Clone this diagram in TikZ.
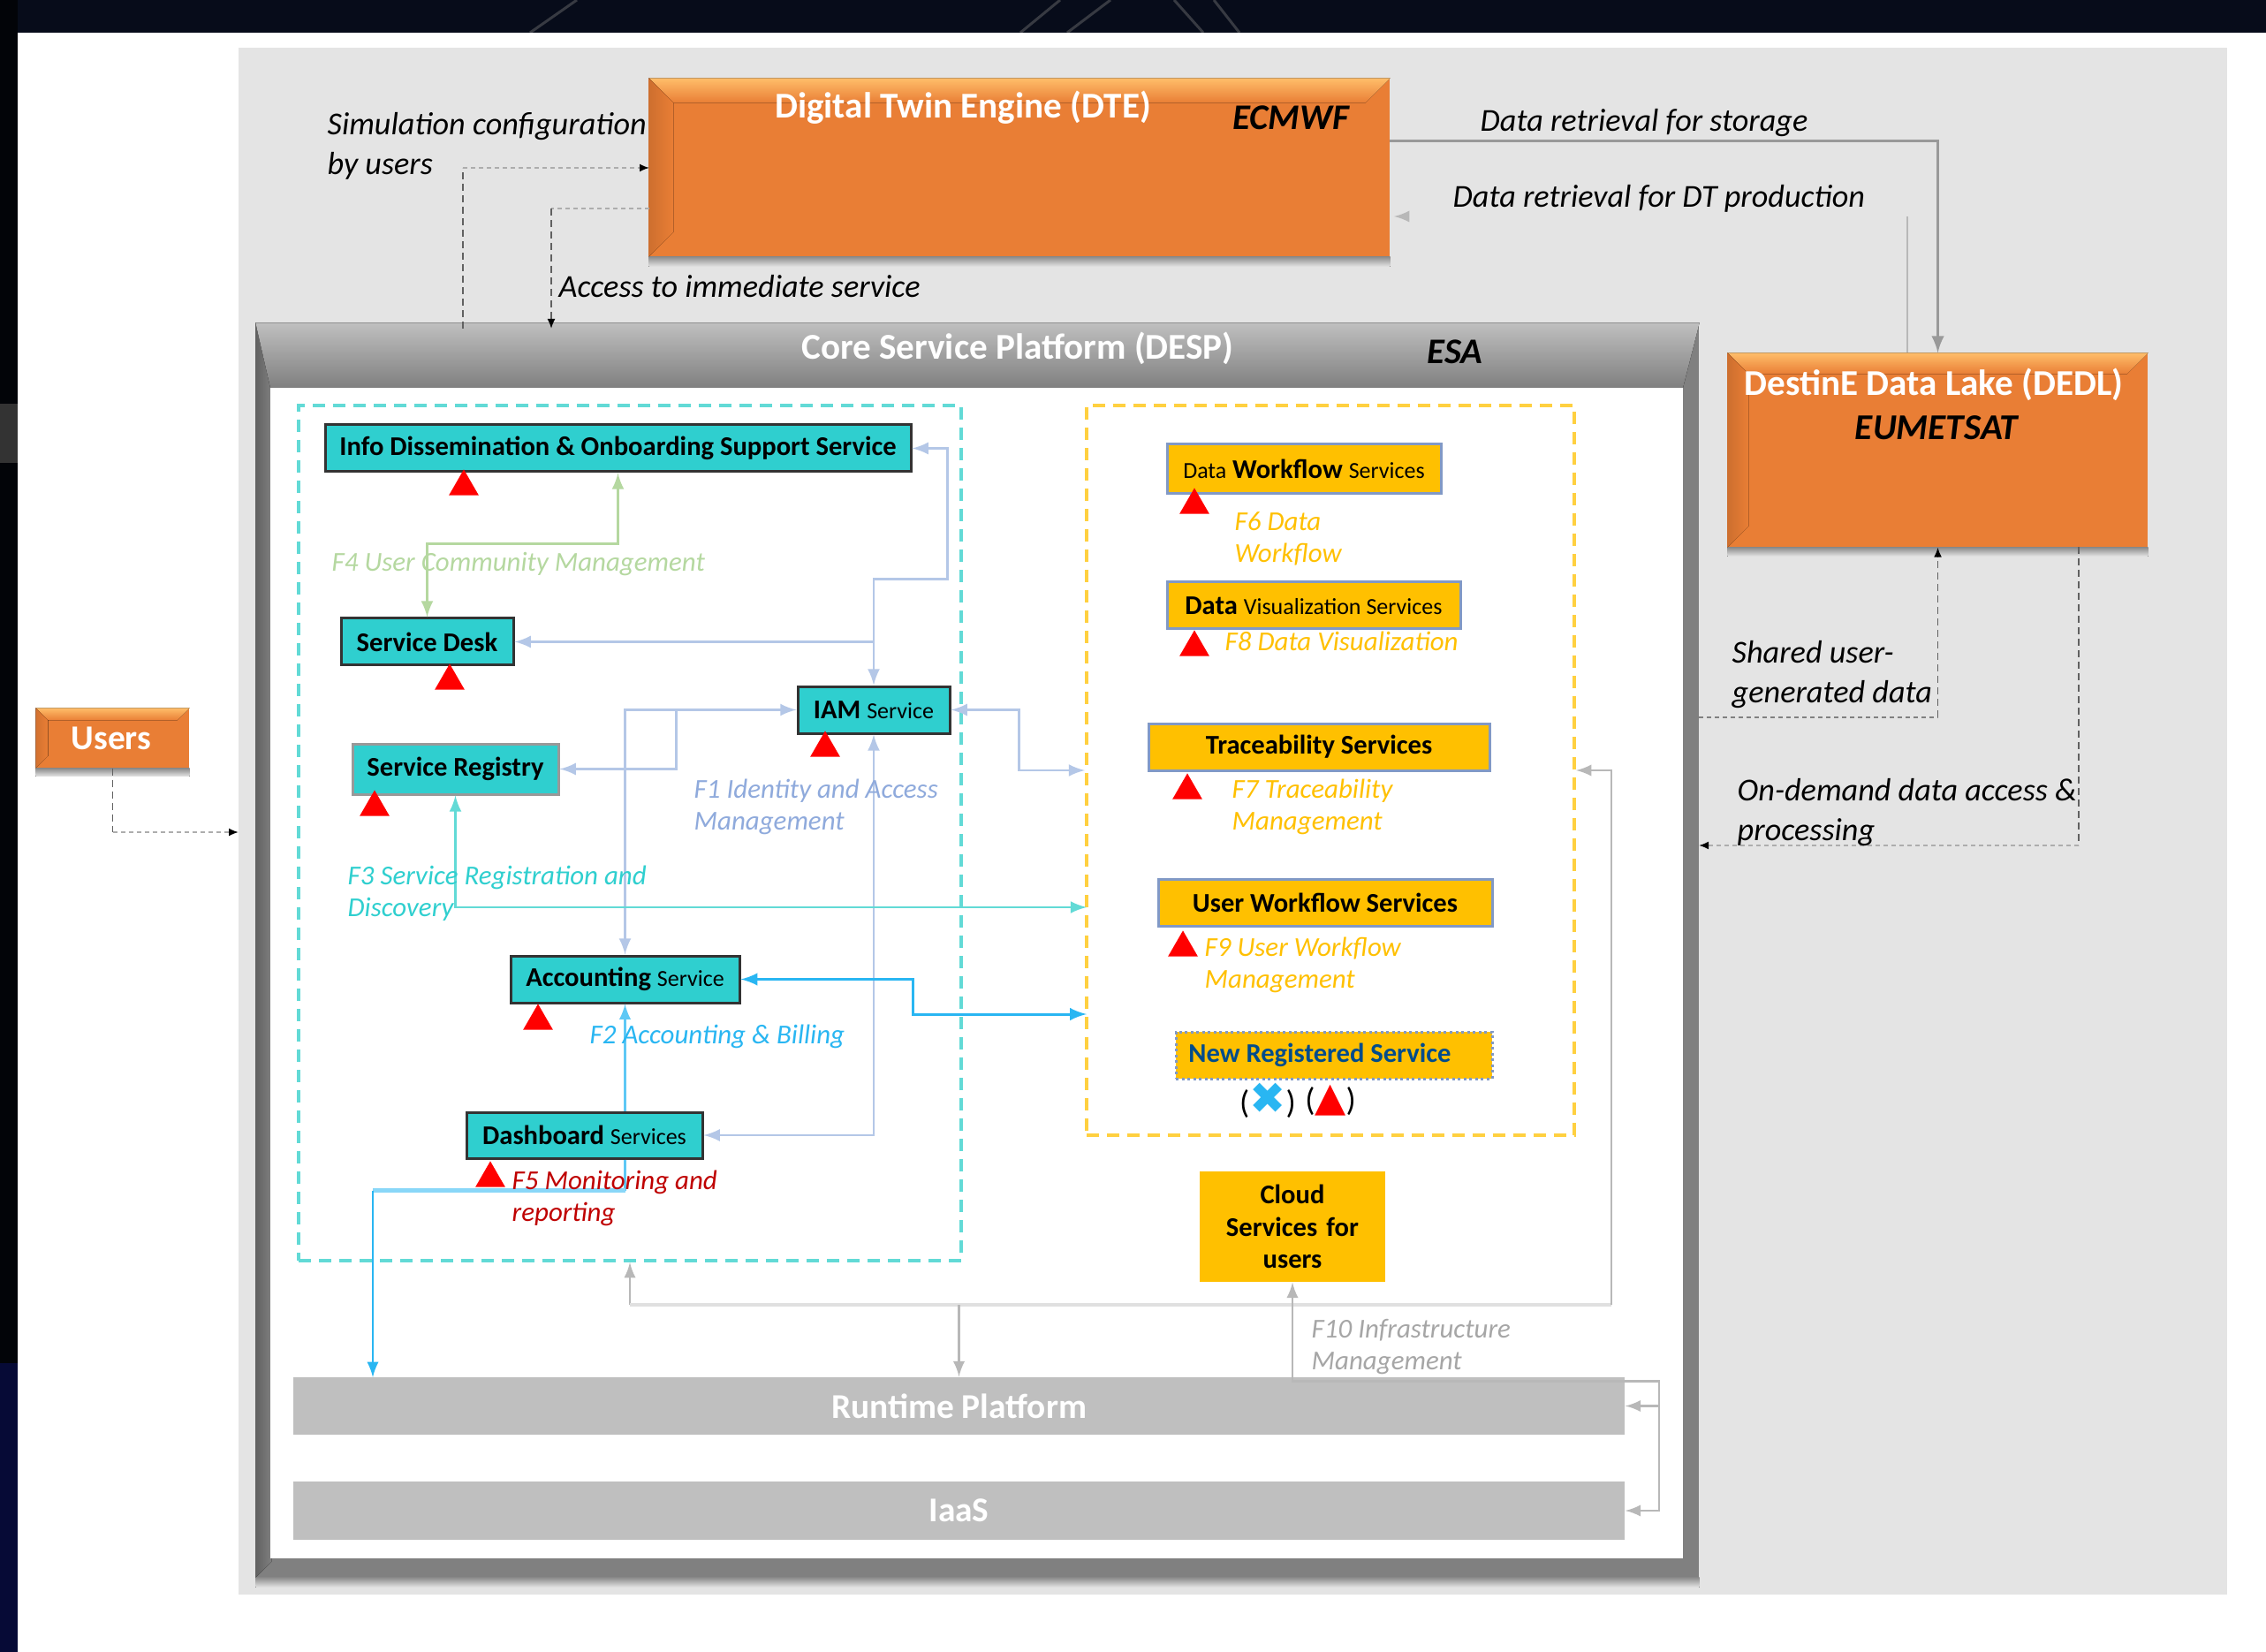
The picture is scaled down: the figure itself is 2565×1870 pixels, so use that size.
\documentclass[tikz,border=0pt]{standalone}
\usepackage{fontspec}
\setmainfont{Carlito}
\newfontfamily\symfont{DejaVu Sans}
\usepackage{tikz}
\usetikzlibrary{calc,shapes.geometric,arrows,arrows.meta}
\definecolor{navy}{HTML}{070C1A}
\definecolor{panel}{HTML}{E4E4E4}
\definecolor{orangebox}{HTML}{E97E35}
\definecolor{orangelight}{HTML}{FFBE6A}
\definecolor{tealbox}{HTML}{2FCFCF}
\definecolor{goldbox}{HTML}{FFC000}
\definecolor{linkgrey}{HTML}{B8B8B8}
\definecolor{linkblue}{HTML}{B4C7E7}
\definecolor{labelblue}{HTML}{8FAADC}
\definecolor{linkgreen}{HTML}{B5D8A0}
\definecolor{linkteal}{HTML}{62DAD6}
\definecolor{skyblue}{HTML}{29B6F2}
\newcommand{\smalltxt}[1]{{\fontsize{7.4}{8}\selectfont\mdseries #1}}
% shadow under a box, then its four bevels
\newcommand{\boxshadow}[2]{%
  \fill[top color=black!45,bottom color=panel] (#1.south west) rectangle ($(#1.south east)+(0,#2)$);}
\newcommand{\bevel}[5]{%
  \fill[top color=#3,bottom color=#4] (#1.north west) -- (#1.north east) -- ($(#1.north east)+(-#2,#2)$) -- ($(#1.north west)+(#2,#2)$) -- cycle;
  \fill[left color=#5,right color=#4] (#1.north west) -- (#1.south west) -- ($(#1.south west)+(#2,-#2)$) -- ($(#1.north west)+(#2,#2)$) -- cycle;}
\begin{document}
\begin{tikzpicture}[x=0.1mm,y=-0.1mm,>=latex,
    tealnode/.style={draw=black!80,line width=0.3mm,fill=tealbox,inner sep=0pt,font=\fontsize{8.7}{10}\selectfont\bfseries},
    goldnode/.style={draw=labelblue!90!black,line width=0.3mm,fill=goldbox,inner sep=0pt,font=\fontsize{8.7}{10}\selectfont\bfseries},
    greynode/.style={fill=black!25,inner sep=0pt,text=white,font=\fontsize{11.2}{12}\selectfont\bfseries},
    orangenode/.style={fill=orangebox,inner sep=0pt},
    whitehead/.style={text=white,inner sep=0pt,font=\fontsize{11.7}{13}\selectfont\bfseries},
    blackhead/.style={text=black,inner sep=0pt,font=\fontsize{11.6}{13}\selectfont\bfseries\itshape},
    note/.style={anchor=west,align=left,inner sep=0pt,yshift=-0.25mm,font=\fontsize{10.3}{12.6}\selectfont\itshape},
    func/.style={anchor=west,align=left,inner sep=0pt,yshift=-0.25mm,font=\fontsize{8.8}{10.3}\selectfont\itshape},
    redmark/.style={regular polygon,regular polygon sides=3,fill=red,inner sep=0pt,minimum size=3.9mm,anchor=north},
    dashlink/.style={draw=black!62,line width=0.18mm,dash pattern=on 0.8mm off 0.5mm},
    dashfaint/.style={draw=black!32,line width=0.18mm,dash pattern=on 0.5mm off 0.4mm},
    blacktip/.style={-{Latex[black,length=1.1mm,width=0.9mm]}},
    greylink/.style={draw=linkgrey,line width=0.25mm},
    bluelink/.style={draw=linkblue,line width=0.28mm}]
\useasboundingbox (0,0) rectangle (2565,1870);
% dark page behind the slide
\fill[navy] (0,0) rectangle (2565,1870);
\fill[black!70!navy] (0,0) rectangle (20,1543);
\fill[black!80!white] (0,457) rectangle (20,524);
\fill[blue!12!navy] (0,1543) rectangle (20,1870);
\foreach \xa/\ya/\xb in {600/37/653,1155/37/1200,1208/37/1257,1362/37/1329,1403/37/1374}
    \draw[black!55!white,opacity=0.45,line width=0.3mm] (\xa,\ya) -- (\xb,0);
\fill[white] (20,37) rectangle (2565,1870);
\fill[panel] (270,54) rectangle (2521,1805);

% outer boxes
\node[orangenode,minimum width=83.8mm,minimum height=20.1mm] (dte) at (1154,189.5) {};
\boxshadow{dte}{11}
\bevel{dte}{28}{orangelight}{orangebox}{orangebox!88!black}
\node[orangenode,minimum width=47.5mm,minimum height=21.9mm] (dedl) at (2193.5,509.5) {};
\boxshadow{dedl}{10}
\bevel{dedl}{24}{orangelight}{orangebox}{orangebox!88!black}
\node[orangenode,minimum width=17.3mm,minimum height=6.7mm] (users) at (127.5,835.5) {};
\boxshadow{users}{9}
\bevel{users}{14}{orangelight}{orangebox}{orangebox!90!black}
\node[fill=black!50,inner sep=0pt,minimum width=163.3mm,minimum height=141.9mm] (desp) at (1106.5,1075.5) {};
\boxshadow{desp}{11}
\bevel{desp}{18}{black!22}{black!50}{black!62}
\fill[top color=black!25,bottom color=black!50] (desp.north west) -- (desp.north east) -- (1905,439) -- (306,439) -- cycle;
\node[fill=white,inner sep=0pt,minimum width=159.9mm,minimum height=132.5mm] (despin) at (1105.5,1101.5) {};

\node[whitehead] (dtetitle) at (1090,122) {Digital Twin Engine (DTE)};
\node[blackhead] (ecmwf) at (1461,133) {ECMWF};
\node[whitehead] (desptitle) at (1152,394) {Core Service Platform (DESP)};
\node[blackhead] (esa) at (1647,398) {ESA};
\node[whitehead] (dedltitle) at (2189,435) {DestinE Data Lake (DEDL)};
\node[blackhead,font=\fontsize{11.7}{13}\selectfont\bfseries\itshape] (eumetsat) at (2192,484) {EUMETSAT};
\node[whitehead,font=\fontsize{11.2}{13}\selectfont\bfseries] (userstitle) at (126,836) {Users};

% dashed groups
\node[draw=linkteal,line width=0.4mm,dash pattern=on 1.4mm off 0.9mm,minimum width=75mm,minimum height=96.8mm,inner sep=0pt] (coregroup) at (713,943) {};
\node[draw=goldbox!75!white,line width=0.4mm,dash pattern=on 1.4mm off 0.9mm,minimum width=55.2mm,minimum height=82.6mm,inner sep=0pt] (optgroup) at (1506,872) {};

% services
\node[tealnode,minimum width=66.3mm,minimum height=5.3mm] (info) at (699.5,507.5) {\raisebox{-0.3mm}{Info Dissemination \& Onboarding Support Service}};
\node[tealnode,minimum width=19.5mm,minimum height=5.3mm] (desk) at (483.5,726.5) {Service Desk};
\node[tealnode,draw=black!40,minimum width=23.3mm,minimum height=5.7mm] (registry) at (515.5,870.5) {Service Registry};
\node[tealnode,minimum width=17.2mm,minimum height=5.3mm] (iam) at (989,803.5) {IAM \smalltxt{Service}};
\node[tealnode,minimum width=25.9mm,minimum height=5.3mm] (accounting) at (707.5,1108.5) {Accounting \smalltxt{Service}};
\node[tealnode,minimum width=26.7mm,minimum height=5.2mm] (dashboard) at (661.5,1285) {Dashboard \smalltxt{Services}};
\node[goldnode,minimum width=31mm,minimum height=5.6mm] (dataflow) at (1476,531) {\smalltxt{Data} Workflow \smalltxt{Services}};
\node[goldnode,minimum width=33.2mm,minimum height=5.3mm] (datavis) at (1487,685.5) {Data \smalltxt{Visualization Services}};
\node[goldnode,minimum width=38.6mm,minimum height=5.3mm] (trace) at (1493,845.5) {Traceability Services};
\node[goldnode,minimum width=37.8mm,minimum height=5.3mm] (userflow) at (1500,1021.5) {User Workflow Services};
\node[goldnode,densely dotted,text=blue!35!black!70!cyan,minimum width=35.8mm,minimum height=5.3mm] (newsvc) at (1510,1194.5) {\raisebox{-0.3mm}{New Registered Service}\rule{3.2mm}{0pt}};
\node[fill=goldbox,inner sep=0pt,align=center,text width=21mm,minimum height=12.5mm,font=\fontsize{8.7}{10.4}\selectfont\bfseries] (cloud) at (1463,1388.5) {Cloud\\Services for\\users};
\node[greynode,minimum width=150.7mm,minimum height=6.5mm] (runtime) at (1085.5,1591.5) {Runtime Platform};
\node[greynode,minimum width=150.7mm,minimum height=6.6mm] (iaas) at (1085.5,1710) {IaaS};

% red markers
\node[redmark] (tinfo) at (525,530) {};
\node[redmark] (tdesk) at (509,750) {};
\node[redmark] (treg) at (424,893) {};
\node[redmark] (tiam) at (934,826) {};
\node[redmark] (tacc) at (609,1135) {};
\node[redmark] (tdash) at (555,1313) {};
\node[redmark] (tflow) at (1352,551) {};
\node[redmark] (tvis) at (1352,712) {};
\node[redmark] (ttrace) at (1344,874) {};
\node[redmark] (tuser) at (1339,1052) {};
\node[inner sep=0pt,font=\fontsize{10.5}{12}\selectfont] (mkx) at (1435,1246) {(\textcolor{skyblue}{\symfont\fontsize{14}{14}\selectfont ✖})};
\node[inner sep=0pt,font=\fontsize{10.5}{12}\selectfont] (mkt) at (1506,1246) {(\textcolor{red}{\symfont\fontsize{13}{14}\selectfont ▲})};

% free ends of the links
\coordinate (cfgout) at (524,372);
\coordinate (cfgin) at (735,190);
\coordinate (immout) at (735,236);
\coordinate (immin) at (624,372);
\coordinate (storeout) at (1573,160);
\coordinate (dtin) at (1578,245);
\coordinate (sharedout) at (1923,812);
\coordinate (demandout) at (2353,619);
\coordinate (demandin) at (1923,957);
\coordinate (usersin) at (270,942);
\coordinate (regin) at (1230,1027);
\coordinate (accin) at (1230,1148);
\coordinate (rtin) at (422,1559);

% black links
\draw[dashlink] (cfgout) -- (cfgout |- cfgin);
\draw[dashfaint,blacktip] (cfgout |- cfgin) -- (cfgin);
\draw[dashfaint] (immout) -- (immout -| immin);
\draw[dashlink,blacktip] (immout -| immin) -- (immin);
\draw[greylink,line width=0.3mm,draw=black!40,->] (storeout) -| (dedl.north);
\draw[greylink] (dedl.north -| 2159,0) -- ++(0,-154);
\draw[greylink,->] (1592,245) -- (dtin);
\draw[dashfaint,draw=black!50] (sharedout) -- (sharedout -| dedl.south);
\draw[dashlink,blacktip] (sharedout -| dedl.south) -- (dedl.south);
\draw[dashlink] (demandout) -- (demandout |- demandin);
\draw[dashfaint,blacktip] (demandout |- demandin) -- (demandin);
\draw[dashlink] (users.south) -- (users.south |- usersin);
\draw[dashfaint,blacktip] (users.south |- usersin) -- (usersin);

% F1
\draw[bluelink,<->] (info.east) -- ++(40,0) -- ++(0,148) -| (iam.north);
\draw[bluelink,->] (desk.east -| iam.north) -- (desk.east);
\draw[bluelink,<->] (iam.west) -| (accounting.north);
\draw[bluelink,->] (iam.west) ++(-136,0) |- (registry.east);
\draw[bluelink,<->] (iam.east) -- ++(77,0) |- (optgroup.west);
\draw[bluelink,<->] (iam.south) |- (dashboard.east);
% F2, F3, F4
\draw[draw=skyblue,line width=0.3mm,<->] (accounting.east) -- ++(195,0) |- (accin);
\draw[draw=skyblue!75!white,line width=0.25mm,->] (accounting.south |- dashboard.north) -- (accounting.south);
\draw[draw=skyblue!75!white,line width=0.25mm] (accounting.south |- dashboard.south) -- ++(0,35) coordinate (rtcorner);
\draw[draw=skyblue!55!white,line width=0.42mm] (rtcorner) -- (rtcorner -| rtin);
\draw[draw=skyblue,line width=0.25mm,->] (rtcorner -| rtin) -- (rtin);
\draw[draw=linkteal,line width=0.28mm,<->] (registry.south) |- (regin);
\draw[draw=linkgreen,line width=0.28mm,<->] (desk.north) -- ++(0,-83) -| (info.south);
% F10
\draw[greylink,<-] (coregroup.south) -- ++(0,48) coordinate (f10left);
\draw[greylink,draw=black!12,line width=0.4mm] (f10left) -- ++(1111,0) coordinate (f10right);
\draw[greylink,->] (f10right) |- (optgroup.east);
\draw[greylink,->] (runtime.north) ++(0,-81) -- (runtime.north);
\draw[greylink,<->] (cloud.south) -- ++(0,112) -- ++(415,0) |- (iaas.east);
\draw[greylink,->] (runtime.east) ++(39,0) -- (runtime.east);

% labels
\node[note] (lblcfg) at (370,163) {Simulation configuration\\by users};
\node[note] (lblimm) at (632,322) {Access to immediate service};
\node[note] (lblstore) at (1675,137) {Data retrieval for storage};
\node[note] (lbldt) at (1644,222) {Data retrieval for DT production};
\node[note] (lblshared) at (1960,761) {Shared user-\\generated data};
\node[note] (lbldemand) at (1966,917) {On-demand data access \&\\processing};
\node[func,text=linkgreen] (f4) at (375,636) {F4 User Community Management};
\node[func,text=labelblue] (f1) at (785,911) {F1 Identity and Access\\Management};
\node[func,text=tealbox] (f3) at (393,1009) {F3 Service Registration and\\Discovery};
\node[func,text=skyblue] (f2) at (667,1171) {F2 Accounting \& Billing};
\node[func,text=red!75!black] (f5) at (579,1354) {F5 Monitoring and\\reporting};
\node[func,text=goldbox] (f6) at (1397,607) {F6 Data\\Workflow};
\node[func,text=goldbox] (f8) at (1386,723) {F8 Data Visualization};
\node[func,text=goldbox] (f7) at (1394,911) {F7 Traceability\\Management};
\node[func,text=goldbox] (f9) at (1363,1090) {F9 User Workflow\\Management};
\node[func,text=black!35] (f10) at (1484,1522) {F10 Infrastructure\\Management};
\end{tikzpicture}
\end{document}
